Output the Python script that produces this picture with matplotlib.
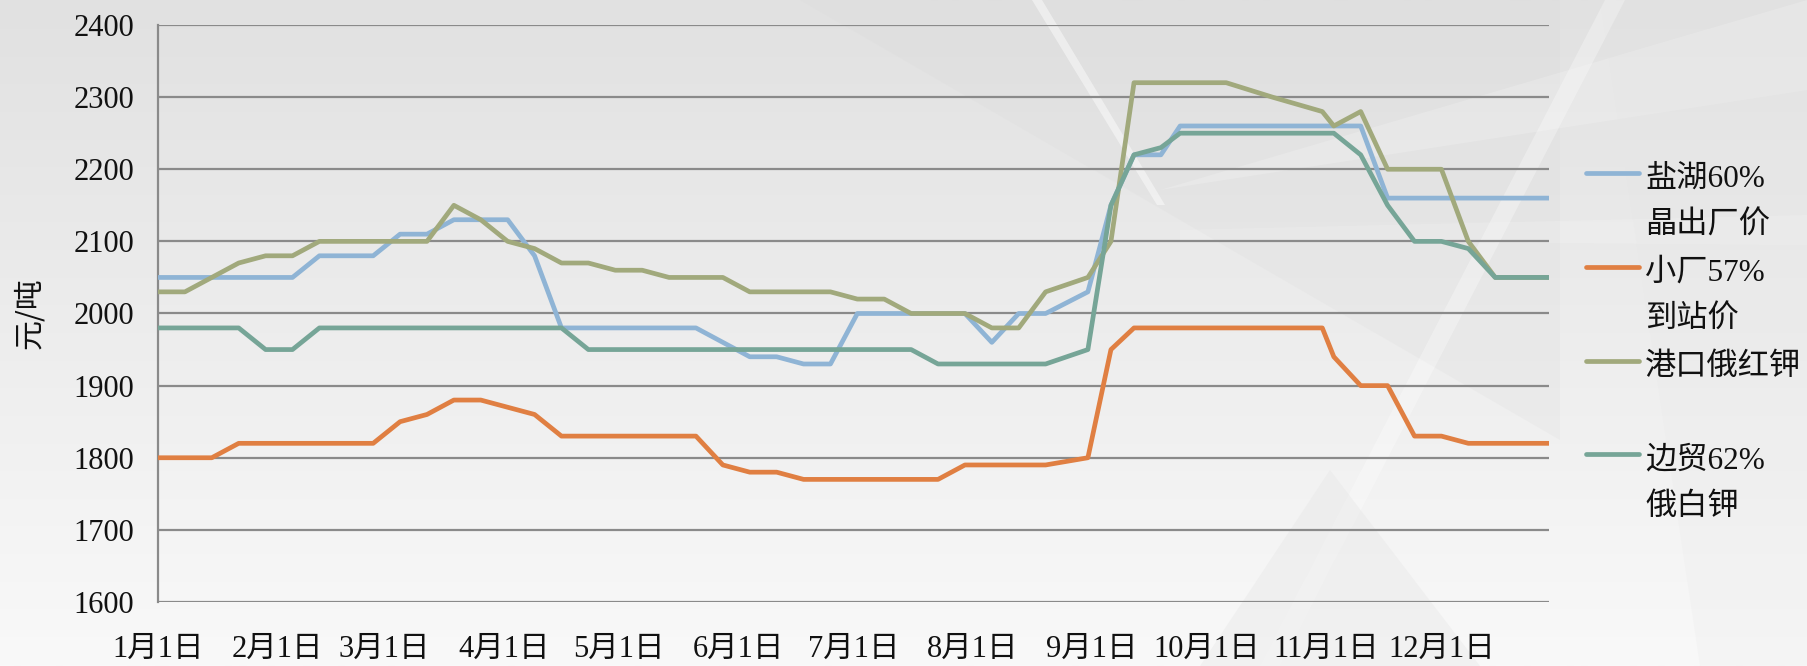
import numpy as np
import pandas as pd
import matplotlib
matplotlib.use('Agg')
import matplotlib.pyplot as plt
from matplotlib.colors import LinearSegmentedColormap
from matplotlib.lines import Line2D
from matplotlib.patches import Polygon

# 日期（周度数据，9-10月不规则）
dates = ['01-01', '01-08', '01-15', '01-22', '01-29', '02-05', '02-12', '02-19', '02-26',
         '03-05', '03-12', '03-19', '03-26', '04-02', '04-09', '04-16', '04-23', '04-30',
         '05-07', '05-14', '05-21', '05-28', '06-04', '06-11', '06-18', '06-25', '07-02',
         '07-09', '07-16', '07-23', '07-30', '08-06', '08-13', '08-20', '08-31', '09-06',
         '09-12', '09-19', '09-24', '10-06', '10-18', '10-31', '11-03', '11-10', '11-17',
         '11-24', '12-01', '12-08', '12-15', '12-22', '12-29']

yanhu = [2050, 2050, 2050, 2050, 2050, 2050, 2080, 2080, 2080, 2110, 2110, 2130, 2130,
         2130, 2080, 1980, 1980, 1980, 1980, 1980, 1980, 1960, 1940, 1940, 1930, 1930,
         2000, 2000, 2000, 2000, 2000, 1960, 2000, 2000, 2030, 2150, 2220, 2220, 2260,
         2260, 2260, 2260, 2260, 2260, 2160, 2160, 2160, 2160, 2160, 2160, 2160]
xiaochang = [1800, 1800, 1800, 1820, 1820, 1820, 1820, 1820, 1820, 1850, 1860, 1880, 1880,
             1870, 1860, 1830, 1830, 1830, 1830, 1830, 1830, 1790, 1780, 1780, 1770, 1770,
             1770, 1770, 1770, 1770, 1790, 1790, 1790, 1790, 1800, 1950, 1980, 1980, 1980,
             1980, 1980, 1980, 1940, 1900, 1900, 1830, 1830, 1820, 1820, 1820, 1820]
gangkou = [2030, 2030, 2050, 2070, 2080, 2080, 2100, 2100, 2100, 2100, 2100, 2150, 2130,
           2100, 2090, 2070, 2070, 2060, 2060, 2050, 2050, 2050, 2030, 2030, 2030, 2030,
           2020, 2020, 2000, 2000, 2000, 1980, 1980, 2030, 2050, 2100, 2320, 2320, 2320,
           2320, 2300, 2280, 2260, 2280, 2200, 2200, 2200, 2100, 2050, 2050, 2050]
bianmao = [1980, 1980, 1980, 1980, 1950, 1950, 1980, 1980, 1980, 1980, 1980, 1980, 1980,
           1980, 1980, 1980, 1950, 1950, 1950, 1950, 1950, 1950, 1950, 1950, 1950, 1950,
           1950, 1950, 1950, 1930, 1930, 1930, 1930, 1930, 1950, 2150, 2220, 2230, 2250,
           2250, 2250, 2250, 2250, 2220, 2150, 2100, 2100, 2090, 2050, 2050, 2050]

labels = [['盐湖60%', '晶出厂价'], ['小厂57%', '到站价'], ['港口俄红钾'], ['边贸62%', '俄白钾']]
colors = ['#8fb4d5', '#e07f42', '#a1a97c', '#76a597']
month_labels = [f'{m}月1日' for m in range(1, 13)]

x = pd.to_datetime(['2017-' + d for d in dates])
month_ticks = pd.to_datetime([f'2017-{m:02d}-01' for m in range(1, 13)])

fonts = ['Liberation Serif', 'Noto Sans CJK SC']
W, H = 1807, 666
fig = plt.figure(figsize=(W / 100, H / 100), dpi=100)

# 背景渐变和淡色几何图形
bg = fig.add_axes([0, 0, 1, 1], zorder=0)
cmap = LinearSegmentedColormap.from_list('bg', ['#e1e1e1', '#f9f9f9'])
bg.imshow(np.linspace(0, 1, 256).reshape(-1, 1), aspect='auto', cmap=cmap,
          extent=[0, W, H, 0], origin='upper')
shapes = [
    ([(800, 0), (1560, 0), (1560, 440)], '#d6d6d6', 0.18),
    ([(1160, 190), (1807, 0), (1807, 90)], '#ffffff', 0.18),
    ([(1180, 230), (1807, 215), (1807, 245), (1180, 240)], '#ffffff', 0.15),
    ([(1260, 666), (1605, 0), (1625, 0), (1280, 666)], '#ffffff', 0.3),
    ([(1032, 0), (1042, 0), (1165, 205), (1157, 205)], '#ffffff', 0.45),
    ([(1330, 470), (1480, 666), (1200, 666)], '#e4e4e4', 0.35),
    ([(1600, 0), (1807, 0), (1807, 666), (1700, 666)], '#e6e6e6', 0.2),
]
for pts, c, a in shapes:
    bg.add_patch(Polygon(pts, closed=True, facecolor=c, edgecolor='none', alpha=a))
bg.set_xlim(0, W)
bg.set_ylim(H, 0)
bg.axis('off')

ax = fig.add_axes([158 / W, 1 - 602 / H, (1549 - 158) / W, (602 - 25) / H], zorder=1)
ax.patch.set_alpha(0)

for vals, c in zip([yanhu, xiaochang, gangkou, bianmao], colors):
    ax.plot(x, vals, color=c, lw=3.4, solid_capstyle='round', zorder=3)

ax.set_ylim(1600, 2400)
ax.set_yticks(range(1600, 2401, 100))
ax.set_xlim(x[0], x[-1])
ax.set_xticks(month_ticks)
ax.set_xticklabels(month_labels)
ax.yaxis.grid(True, color='#8a8a8a', lw=1.6)
ax.set_axisbelow(True)
for s in ['top', 'right', 'bottom']:
    ax.spines[s].set_visible(False)
ax.spines['left'].set_color('#8a8a8a')
ax.spines['left'].set_linewidth(1.6)
ax.tick_params(axis='both', length=0, labelsize=22, colors='#111111')
ax.tick_params(axis='y', pad=17)
ax.tick_params(axis='x', pad=24)
for t in ax.get_xticklabels() + ax.get_yticklabels():
    t.set_family(fonts)

fig.text(29.5 / W, 1 - 313 / H, '元/吨', rotation=90, ha='center', va='center',
         fontsize=21.6, family='Noto Sans CJK SC', color='#111111')

# 图例（手动绘制，图例线条对齐首行文字）
handle_y = [173, 267, 361, 454]
for hy, lab, c in zip(handle_y, labels, colors):
    fig.add_artist(Line2D([1586 / W, 1639 / W], [1 - hy / H, 1 - hy / H], color=c,
                          lw=3.4, solid_capstyle='round', transform=fig.transFigure))
    for k, line in enumerate(lab):
        fig.text(1645 / W, 1 - (hy + 6.5 + 47 * k) / H, line, ha='left', va='center',
                 fontsize=22.5, family=fonts, color='#111111')

fig.savefig('out.png', dpi=100)
